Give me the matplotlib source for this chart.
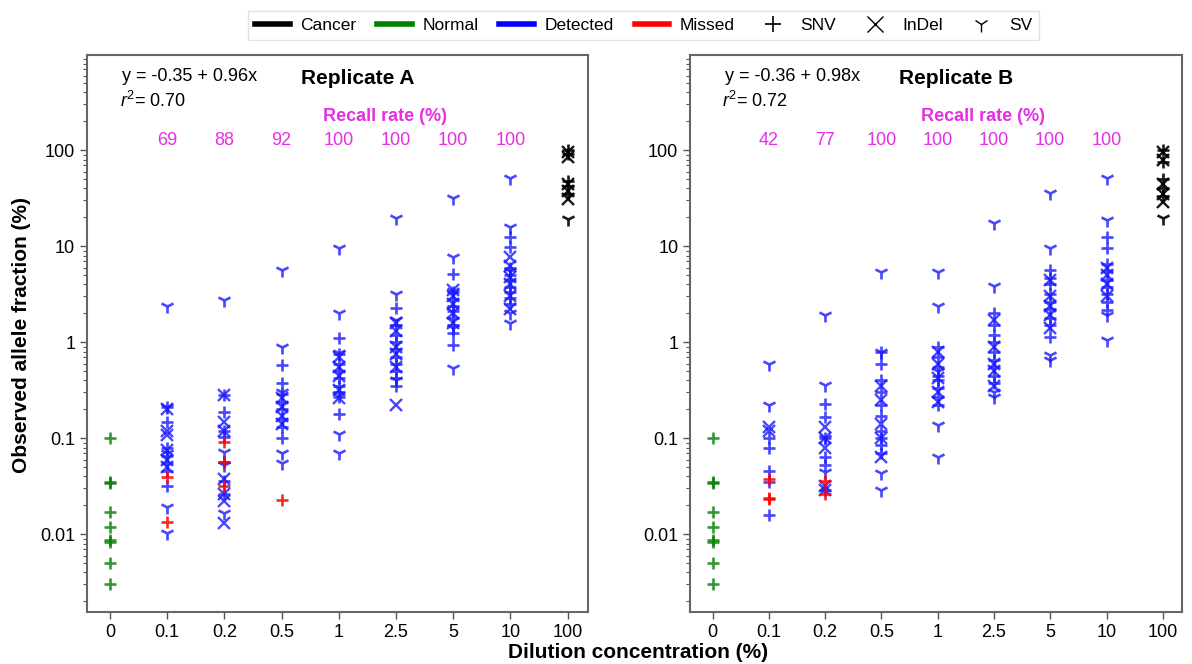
import matplotlib.pyplot as plt
from matplotlib.lines import Line2D
import numpy as np

plt.rcParams['font.family'] = ['Liberation Sans', 'DejaVu Sans']
plt.rcParams['mathtext.fontset'] = 'custom'
plt.rcParams['mathtext.rm'] = 'Liberation Sans'
plt.rcParams['mathtext.it'] = 'Liberation Sans:italic'

# categories (dilution concentration, %)
concs = ['0', '0.1', '0.2', '0.5', '1', '2.5', '5', '10', '100']

# normal sample (x = 0), same in both replicates
normal_snv = [0.1, 0.034, 0.035, 0.017, 0.012, 0.0088, 0.0082, 0.005, 0.003]

# cancer sample (x = 100)
cancerA_snv = [100, 92, 48, 42, 35]
cancerA_indel = [97, 85, 45, 38, 31]
cancerA_sv = [19]
cancerB_snv = [100, 75, 50, 40, 33]
cancerB_indel = [95, 80, 45, 35, 29]
cancerB_sv = [19.5]

# replicate A, detected, one list per dilution 0.1 .. 10
A_snv = [[0.21, 0.147, 0.08, 0.065, 0.055, 0.046, 0.032],
         [0.28, 0.187, 0.12, 0.103, 0.056, 0.036, 0.026],
         [0.58, 0.38, 0.29, 0.24, 0.2, 0.16, 0.13, 0.1],
         [1.1, 0.75, 0.6, 0.5, 0.42, 0.35, 0.3, 0.27, 0.18],
         [2.3, 1.5, 1.2, 1.0, 0.85, 0.7, 0.6, 0.5, 0.42, 0.35],
         [5.1, 3.3, 2.8, 2.4, 2.1, 1.8, 1.5, 1.24, 0.93],
         [12.4, 9.8, 6.0, 5.0, 4.4, 3.8, 3.3, 2.9, 2.5]]
A_indel = [[0.2, 0.12, 0.107, 0.075, 0.06, 0.05],
           [0.28, 0.147, 0.12, 0.038, 0.026, 0.022, 0.013],
           [0.26, 0.21, 0.17, 0.14],
           [0.7, 0.55, 0.45, 0.32, 0.26],
           [1.6, 1.3, 0.9, 0.75, 0.55, 0.22],
           [3.5, 3.0, 2.5, 2.0, 1.6],
           [7.7, 6.2, 4.8, 4.0, 3.0, 2.2]]
A_sv = [[2.4, 0.21, 0.07, 0.019, 0.0103],
        [2.75, 0.072, 0.052, 0.0165],
        [5.6, 0.89, 0.3, 0.07, 0.055],
        [9.7, 2.0, 0.77, 0.11, 0.07],
        [19.6, 3.2, 1.7, 0.4],
        [32, 7.7, 3.4, 1.4, 0.54],
        [52, 15.8, 5.5, 2.0, 1.6]]
A_missed = [[0.039, 0.0133], [0.091, 0.056, 0.032], [0.0225], [], [], [], []]

# replicate B
B_snv = [[0.1, 0.079, 0.046, 0.035, 0.016],
         [0.23, 0.166, 0.1, 0.063, 0.052, 0.029],
         [0.79, 0.6, 0.4, 0.3, 0.22, 0.17, 0.12, 0.1, 0.085, 0.07],
         [0.89, 0.7, 0.55, 0.45, 0.4, 0.33, 0.27, 0.22],
         [2.0, 1.5, 1.2, 1.0, 0.8, 0.65, 0.55, 0.45, 0.38],
         [5.6, 4.7, 4.0, 3.2, 2.6, 2.2, 1.8, 1.5, 1.13],
         [12.4, 9.5, 6.6, 5.5, 4.5, 3.8, 3.2, 2.6, 2.15]]
B_indel = [[0.13, 0.12],
           [0.13, 0.1, 0.08, 0.032, 0.029],
           [0.35, 0.25, 0.14, 0.1, 0.063],
           [0.8, 0.6, 0.42, 0.3, 0.24],
           [1.7, 0.9, 0.6, 0.5, 0.35],
           [4.5, 3.0, 2.4, 1.9, 1.4],
           [6.0, 5.0, 4.0, 3.0]]
B_sv = [[0.59, 0.22],
        [1.9, 0.36, 0.1, 0.045],
        [5.4, 0.8, 0.043, 0.029],
        [5.4, 2.4, 0.5, 0.137, 0.063],
        [17.4, 3.9, 0.3, 0.27],
        [36, 9.5, 0.73, 0.65],
        [52, 18.6, 1.9, 1.05]]
B_missed = [[0.038, 0.024, 0.023], [0.036, 0.026], [], [], [], [], []]

recallA = [69, 88, 92, 100, 100, 100, 100]
recallB = [42, 77, 100, 100, 100, 100, 100]
fitA = ('y = -0.35 + 0.96x', '0.70')
fitB = ('y = -0.36 + 0.98x', '0.72')

BLUE = '#1a1aff'
MAG = '#e52ee5'
mk = {'+': dict(marker='+', ms=9, mew=1.9),
      'x': dict(marker='x', ms=8, mew=1.7),
      '1': dict(marker='1', ms=10, mew=1.9)}


def pts(ax, x, vals, m, color, alpha=0.8):
    if len(vals) == 0:
        return
    ax.plot([x] * len(vals), vals, ls='none', color=color, alpha=alpha, **mk[m])


fig = plt.figure(figsize=(11.92, 6.64), dpi=100)
axA = fig.add_axes([0.073, 0.078, 0.420, 0.839])
axB = fig.add_axes([0.579, 0.078, 0.413, 0.839])

panels = [(axA, A_snv, A_indel, A_sv, A_missed, recallA, fitA, 'Replicate A',
           cancerA_snv, cancerA_indel, cancerA_sv),
          (axB, B_snv, B_indel, B_sv, B_missed, recallB, fitB, 'Replicate B',
           cancerB_snv, cancerB_indel, cancerB_sv)]

for ax, snv, indel, sv, missed, recall, fit, title, c_snv, c_indel, c_sv in panels:
    pts(ax, 0, normal_snv, '+', 'green')
    for i in range(7):
        x = i + 1
        pts(ax, x, snv[i], '+', BLUE)
        pts(ax, x, indel[i], 'x', BLUE)
        pts(ax, x, sv[i], '1', BLUE)
        pts(ax, x, missed[i], '+', 'red', alpha=0.85)
        ax.text(x, 0.847, str(recall[i]), color=MAG, fontsize=13, ha='center',
                va='center', transform=ax.get_xaxis_transform())
    pts(ax, 8, c_snv, '+', 'black', alpha=0.9)
    pts(ax, 8, c_indel, 'x', 'black', alpha=0.9)
    pts(ax, 8, c_sv, '1', 'black', alpha=0.9)

    ax.set_yscale('log')
    ax.set_ylim(0.00154, 980)
    ax.set_xlim(-0.4, 8.35)
    ax.set_xticks(range(len(concs)))
    ax.set_xticklabels(concs)
    ax.set_yticks([0.01, 0.1, 1, 10, 100])
    ax.set_yticklabels(['0.01', '0.1', '1', '10', '100'])
    ax.tick_params(labelsize=13, length=5, width=1, color='#555555')
    ax.tick_params(which='minor', length=3, width=0.8, color='#555555')
    for s in ax.spines.values():
        s.set_color('#666666')
        s.set_linewidth(1.5)

    ax.text(0.07, 0.962, fit[0], fontsize=13, transform=ax.transAxes, va='center')
    ax.text(0.065, 0.918, r'$\it{r}^{2}$= ' + fit[1], fontsize=13,
            transform=ax.transAxes, va='center')
    ax.text(0.54, 0.958, title, fontsize=15, fontweight='bold', ha='center',
            va='center', transform=ax.transAxes)
    ax.text(4.8, 0.889, 'Recall rate (%)', color=MAG, fontsize=13, fontweight='bold',
            ha='center', va='center', transform=ax.get_xaxis_transform())

fig.text(0.018, 0.495, 'Observed allele fraction (%)', rotation=90, fontsize=15,
         fontweight='bold', ha='center', va='center')
fig.text(0.535, 0.017, 'Dilution concentration (%)', fontsize=15, fontweight='bold',
         ha='center', va='center')

handles = [Line2D([], [], color='black', lw=4),
           Line2D([], [], color='green', lw=4),
           Line2D([], [], color='blue', lw=4),
           Line2D([], [], color='red', lw=4),
           Line2D([], [], color='black', ls='none', marker='+', ms=12, mew=1.2),
           Line2D([], [], color='black', ls='none', marker='x', ms=11, mew=1.0),
           Line2D([], [], color='black', ls='none', marker='1', ms=11, mew=1.0)]
labels = ['Cancer', 'Normal', 'Detected', 'Missed', 'SNV', 'InDel', 'SV']
leg = fig.legend(handles, labels, loc='center', bbox_to_anchor=(0.54, 0.962), ncol=7,
                 fontsize=12.5, frameon=True, fancybox=False, handlelength=2.0,
                 columnspacing=1.2, handletextpad=0.6, borderpad=0.4)
leg.get_frame().set_edgecolor('#dddddd')

fig.savefig('out.png', dpi=100)
